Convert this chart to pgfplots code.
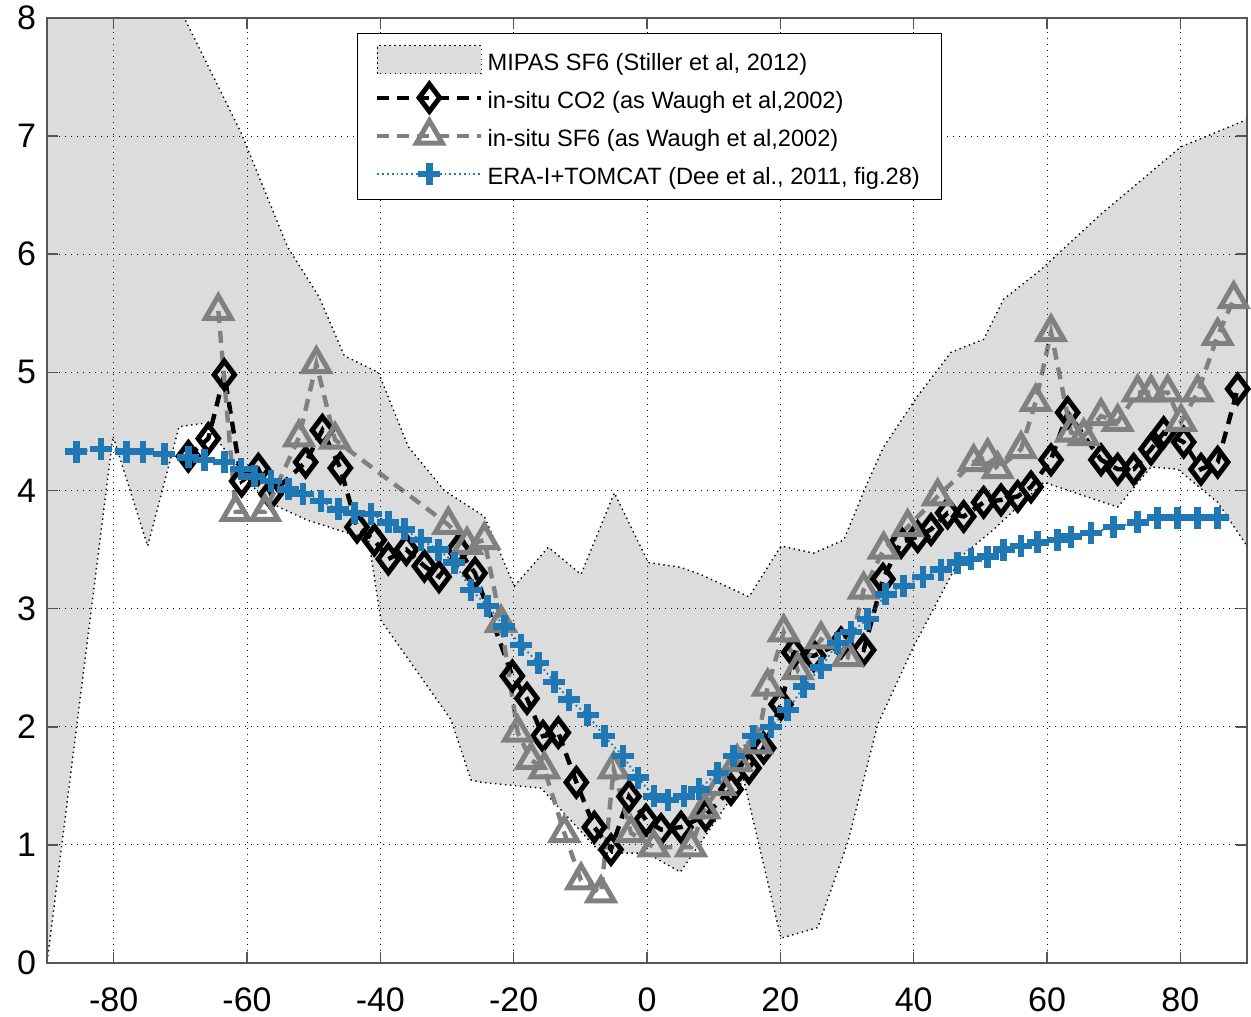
\documentclass[border=0pt]{standalone}
\usepackage{pgfplots}
\pgfplotsset{compat=1.18}
\usepackage{fontspec}
\setmainfont{Liberation Sans}
\definecolor{fillgray}{HTML}{DCDCDC}
\definecolor{sfgray}{HTML}{808080}
\definecolor{erablue}{HTML}{1F77B4}
\definecolor{axgray}{HTML}{555555}
\pgfplotsset{
  mylinelegend/.style={legend image code/.code={\draw[mark repeat=2,mark phase=2,##1] plot coordinates {(0pt,0pt) (26pt,0pt) (52pt,0pt)};}},
  myarealegend/.style={legend image code/.code={\draw[##1] (0pt,-7pt) rectangle (52pt,7pt);}},
}
\begin{document}
\begin{tikzpicture}
\begin{axis}[name=ax,
  scale only axis, width=600pt, height=472.5pt,
  xmin=-90, xmax=90, ymin=0, ymax=8,
  xtick={-80,-60,...,80}, ytick={0,1,...,8},
  grid=major,
  grid style={black, line width=0.5pt, dash pattern=on 0.6pt off 2.4pt},
  axis on top,
  tick align=inside, major tick length=5.5pt,
  axis line style={axgray, line width=0.8pt},
  every tick/.style={axgray, line width=0.8pt},
  /pgf/number format/assume math mode=true,
  ticklabel style={font=\fontsize{17}{19}\selectfont},
  xticklabel style={yshift=-9pt},
  yticklabel style={xshift=-2pt},
  legend cell align=left,
  legend style={at={(rel axis cs:0.258,0.984)}, anchor=north west,
    font=\fontsize{11.8}{13}\selectfont, draw=black, line width=0.6pt,
    inner xsep=9pt, inner ysep=3.5pt, row sep=0pt,
    nodes={inner sep=2pt, text height=13pt, text depth=2pt},
    /tikz/every even column/.append style={column sep=7pt}},
  mylinelegend,
]
\addplot[fill=fillgray, draw=black, line width=0.7pt, dash pattern=on 0.7pt off 1.8pt, myarealegend]
coordinates {
(-90,8) (-69.4,8) (-60.9,7.03) (-53.9,6.06) (-49.2,5.64) (-45.4,5.14) (-40.3,5.0)
(-35.8,4.37) (-30.4,4.0) (-24.4,3.78) (-19.9,3.19) (-14.8,3.52) (-9.9,3.29) (-4.9,3.98)
(0.2,3.39) (5,3.35) (8,3.29) (15.3,3.10) (20.1,3.53) (25,3.47) (29.5,3.58) (33.1,4.07)
(35.5,4.37) (40.6,4.8) (45.6,5.17) (50.5,5.28) (53.5,5.62) (59.1,5.87) (68.1,6.34)
(80.1,6.91) (90,7.14)
(90,3.53) (85.6,3.9) (79.6,4.18) (75.6,4.2) (70.6,3.86) (59.5,4.07) (52,3.67) (47.1,3.44)
(40,2.68) (34.6,2.02) (30.1,1.02) (25.6,0.3) (20.1,0.21) (14.5,1.55) (5,0.77) (0,0.93)
(-6.9,0.93) (-15.9,1.48) (-24.9,1.53) (-26.4,1.55) (-29.4,2.06) (-33.9,2.42) (-39.9,2.9)
(-41.8,3.6) (-44.9,3.64) (-51,3.75) (-57.5,3.92) (-66.4,4.57) (-70.2,4.54) (-74.9,3.53)
(-80.1,4.46) (-90,0)
} -- cycle;
\addlegendentry{MIPAS SF6 (Stiller et al, 2012)}

\addplot[black, line width=2.2pt, dash pattern=on 6pt off 4pt,
  mark=diamond, mark size=6.8pt, mark options={solid, line width=2.5pt}]
coordinates {
(-68.8,4.29) (-65.8,4.44) (-63.4,4.98) (-60.8,4.08) (-58.3,4.18) (-56.4,3.97) (-51.2,4.24)
(-48.7,4.51) (-46.0,4.19) (-43.5,3.69) (-40.9,3.58) (-38.8,3.42) (-36.1,3.50) (-33.4,3.36)
(-31.2,3.27) (-28.3,3.50) (-25.8,3.30) (-20.2,2.43) (-18.0,2.24) (-15.6,1.92) (-13.3,1.95)
(-10.6,1.53) (-7.9,1.15) (-5.4,0.96) (-2.7,1.41) (-0.15,1.21) (2.1,1.13) (5.1,1.15)
(8.8,1.25) (12.6,1.47) (15.3,1.65) (17.5,1.82) (20.1,2.19) (22.0,2.63) (25.0,2.60)
(29.1,2.71) (32.5,2.65) (35.4,3.25) (38.1,3.56) (40.6,3.61) (42.6,3.67) (45.1,3.81)
(47.5,3.78) (50.5,3.90) (53.1,3.92) (55.6,3.95) (57.6,4.03) (60.6,4.26) (63.1,4.66)
(68.1,4.26) (70.6,4.18) (73.0,4.18) (75.6,4.35) (77.5,4.49) (80.5,4.41) (83.1,4.18)
(85.6,4.24) (88.6,4.86)
};
\addlegendentry{in-situ CO2 (as Waugh et al,2002)}

\addplot[sfgray, line width=2.2pt, dash pattern=on 6pt off 4pt,
  mark=triangle, mark size=7.5pt, mark options={solid, line width=2.5pt}]
coordinates {
(-64.3,5.52) (-61.7,3.82) (-57.3,3.82) (-52.2,4.45) (-49.6,5.07) (-46.8,4.43) (-29.8,3.71)
(-27.0,3.54) (-24.4,3.58) (-21.9,2.88) (-19.4,1.95) (-17.4,1.72) (-15.4,1.64) (-12.4,1.10)
(-9.9,0.70) (-6.9,0.59) (-5.0,1.64) (-2.4,1.10) (1.0,0.98) (6.6,0.98) (8.6,1.30) (11.0,1.50)
(13.5,1.70) (16.5,1.85) (18.1,2.34) (20.5,2.80) (22.6,2.48) (26.1,2.74) (30.1,2.59)
(32.5,3.16) (35.5,3.50) (39.1,3.69) (43.6,3.95) (49.0,4.24) (51.1,4.29) (52.6,4.18)
(56.1,4.35) (58.3,4.75) (60.6,5.34) (63.6,4.49) (65.5,4.46) (68.1,4.63) (70.6,4.58)
(73.6,4.83) (75.6,4.83) (78.1,4.83) (80.1,4.58) (82.6,4.83) (85.6,5.31) (88.0,5.62)
};
\addlegendentry{in-situ SF6 (as Waugh et al,2002)}

\addplot[erablue, line width=0.9pt, dash pattern=on 0.9pt off 1.5pt,
  mark=+, mark size=5.5pt, mark options={solid, line width=3.2pt}]
coordinates {
(-85.6,4.33) (-81.9,4.35) (-78.1,4.33) (-75.6,4.33) (-72.4,4.31) (-68.8,4.28) (-66.4,4.26)
(-63.4,4.24) (-60.9,4.18) (-58.9,4.12) (-56.4,4.08) (-53.8,4.01) (-51.6,3.97) (-48.9,3.91)
(-46.3,3.84) (-43.9,3.81) (-41.4,3.80) (-38.8,3.73) (-36.4,3.67) (-33.9,3.58) (-31.3,3.50)
(-28.9,3.39) (-26.4,3.16) (-23.9,3.02) (-21.4,2.85) (-18.9,2.69) (-16.3,2.54) (-13.9,2.38)
(-11.7,2.23) (-8.9,2.10) (-6.4,1.92) (-3.6,1.75) (-1.35,1.57) (1.05,1.41) (3.15,1.38)
(5.55,1.41) (7.8,1.47) (10.6,1.61) (13.0,1.75) (15.9,1.92) (18.6,2.0) (21.1,2.14)
(23.5,2.34) (26.1,2.50) (28.6,2.71) (30.6,2.80) (33.1,2.91) (35.8,3.12) (38.5,3.19)
(41.4,3.27) (44.1,3.33) (46.6,3.39) (48.6,3.42) (51.1,3.44) (53.5,3.50) (56.1,3.53)
(58.6,3.56) (61.6,3.58) (63.6,3.61) (66.6,3.64) (70.0,3.69) (73.6,3.73) (76.6,3.77)
(79.6,3.77) (82.6,3.77) (85.6,3.77)
};
\addlegendentry{ERA-I+TOMCAT (Dee et al., 2011, fig.28)}
\end{axis}
\pgfresetboundingbox
\path ([xshift=-23.5pt,yshift=-26.5pt]ax.south west) rectangle ([xshift=2pt,yshift=9pt]ax.north east);
\end{tikzpicture}
\end{document}
